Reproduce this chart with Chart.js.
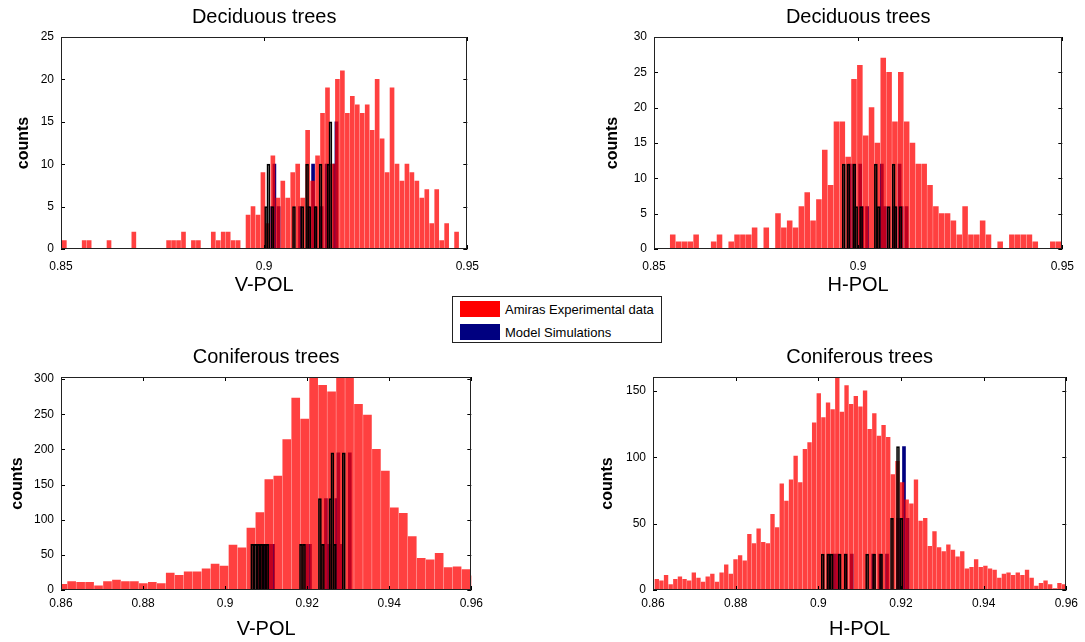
<!DOCTYPE html>
<html>
<head>
<meta charset="utf-8">
<script src="https://cdn.jsdelivr.net/npm/chart.js@4.4.1/dist/chart.umd.min.js"></script>
<style>
  body { margin: 0; background: #fff; width: 1085px; height: 642px; position: relative; overflow: hidden; font-family: "Liberation Sans", Arial, sans-serif; }
  canvas { position: absolute; }
  #legend { position: absolute; left: 452px; top: 296px; width: 208px; height: 45px; border: 1px solid #222; background: #fff; font-size: 13px; color: #000; }
  .item { position: absolute; left: 7px; height: 17px; line-height: 17px; white-space: nowrap; }
  .sw { display: inline-block; width: 40px; height: 16px; vertical-align: top; margin-right: 5px; }
</style>
</head>
<body>
<canvas id="decV" width="488" height="309" style="left:1px;top:0px"></canvas>
<canvas id="decH" width="490" height="309" style="left:594px;top:0px"></canvas>
<canvas id="conV" width="488" height="305" style="left:1px;top:337px"></canvas>
<canvas id="conH" width="491" height="305" style="left:593px;top:337px"></canvas>
<div id="legend">
  <div class="item" style="top:4px"><span class="sw" style="background:#ff0000"></span>Amiras Experimental data</div>
  <div class="item" style="top:27px"><span class="sw" style="background:#000080"></span>Model Simulations</div>
</div>
<script>
const FONT = '"Liberation Sans", Arial, sans-serif';

// Deciduous trees, V-POL (80 bins)
const decVBinStart = 0.85082, decVBinWidth = 0.001222;
const decVCounts = [1,0,0,0,1,1,0,0,0,1, 0,0,0,0,2,0,0,0,0,0, 0,1,1,1,2,0,1,1,0,0, 2,1,2,2,1,1,0,4,5,4,
  9,3,11,6,8,6,9,10,6,14, 8,11,16,19,10,20,21,16,18,17, 16,17,14,20,13,9,19,10,8,10, 9,8,6,7,3,7,1,3,0,2];
const decVModelX = [0.90122, 0.90178, 0.90282, 0.90808, 0.91009, 0.9113, 0.91189, 0.91341, 0.91462, 0.91656, 0.91705];
const decVModelY = [5, 10, 5, 5, 5, 10, 5, 5, 10, 10, 15];

// Deciduous trees, H-POL (67 bins)
const decHBinStart = 0.85459, decHBinWidth = 0.001432;
const decHCounts = [2,1,1,1,2,0,0,1,2,0, 1,2,2,2,3,0,3,0,5,3, 4,3,6,8,4,7,14,9,18,18, 13,24,26,16,20,15,27,25,18,25,
  18,15,12,12,9,6,5,5,4,2, 6,2,2,4,2,0,1,0,2,2, 2,2,1,0,0,1,1];
const decHModelX = [0.89722, 0.89831, 0.89976, 0.90024, 0.90145, 0.90507, 0.9058, 0.90821, 0.90942, 0.9099, 0.91111];
const decHModelY = [12, 12, 12, 6, 6, 12, 6, 6, 12, 6, 6];

// Coniferous trees, V-POL (47 bins)
const conVBinStart = 0.86041, conVBinWidth = 0.0021845;
const conVCounts = [8,12,11,11,6,12,14,12,12,9, 11,9,24,21,26,26,30,37,34,64, 60,88,110,157,162,214,273,243,310,291,
  282,318,306,264,249,200,169,117,109,76, 45,43,52,32,33,29,20];
const conVModelX = [0.90733, 0.90806, 0.90879, 0.90951, 0.91024, 0.91097, 0.91922, 0.91995, 0.92383, 0.92456, 0.92638, 0.92687, 0.92748, 0.92966];
const conVModelY = [65, 65, 65, 65, 65, 65, 65, 65, 130, 65, 130, 195, 65, 195];

// Coniferous trees, H-POL (89 bins)
const conHBinStart = 0.86092, conHBinWidth = 0.0011197;
const conHCounts = [8,7,11,4,8,10,8,7,13,9, 6,10,12,6,13,19,12,23,26,22, 42,35,46,36,35,57,47,80,67,83,
  101,81,106,111,126,148,130,141,136,165, 134,154,140,146,138,150,121,133,116,124, 115,87,97,81,68,65,83,52,54,33,
  44,32,29,34,30,25,29,16,17,23, 17,18,16,15,9,12,13,11,13,11, 15,9,3,5,7,4,1,5,4];
const conHModelX = [0.90181, 0.90313, 0.90398, 0.9059, 0.90735, 0.91253, 0.91422, 0.9159, 0.91855, 0.92, 0.92084];
const conHModelY = [27, 27, 27, 27, 27, 27, 27, 27, 54, 108, 54];

// box round the plot + inward ticks on all four sides
const frameTicks = {
  id: 'frameTicks',
  afterDatasetsDraw(chart) {
    const { ctx, chartArea: a, scales } = chart;
    ctx.save();
    ctx.strokeStyle = '#000';
    ctx.lineWidth = 1;
    ctx.beginPath();
    scales.x.ticks.forEach(t => {
      const px = Math.round(scales.x.getPixelForValue(t.value)) + 0.5;
      ctx.moveTo(px, a.bottom); ctx.lineTo(px, a.bottom - 4);
      ctx.moveTo(px, a.top); ctx.lineTo(px, a.top + 4);
    });
    scales.y.ticks.forEach(t => {
      const py = Math.round(scales.y.getPixelForValue(t.value)) + 0.5;
      ctx.moveTo(a.left, py); ctx.lineTo(a.left + 4, py);
      ctx.moveTo(a.right, py); ctx.lineTo(a.right - 4, py);
    });
    ctx.stroke();
    ctx.strokeStyle = '#222';
    ctx.strokeRect(Math.round(a.left) + 0.5, Math.round(a.top) + 0.5, Math.round(a.width) - 1, Math.round(a.height) - 1);
    ctx.restore();
  }
};

function histChart(id, o) {
  const modelPoints = o.modelX.map((x, i) => ({ x: x, y: o.modelY[i] }));
  return new Chart(document.getElementById(id), {
    type: 'bar',
    data: {
      datasets: [
        {
          // black edges of the model bars, on top of everything
          label: 'Model Simulations',
          data: modelPoints,
          xAxisID: 'x3',
          backgroundColor: 'rgba(0,0,0,0)',
          borderColor: '#000',
          borderWidth: 1,
          barThickness: 3,
          order: 0,
          clip: 0
        },
        {
          label: 'Amiras Experimental data',
          data: o.counts.map((c, i) => ({ x: o.start + i * o.width, y: c })),
          xAxisID: 'x',
          backgroundColor: 'rgba(255,0,0,0.75)',
          borderWidth: 0,
          barThickness: o.barPx,
          order: 1,
          clip: 0
        },
        {
          // navy faces of the model bars, seen through the red
          label: 'Model Simulations',
          data: modelPoints,
          xAxisID: 'x2',
          backgroundColor: '#000080',
          borderWidth: 0,
          barThickness: 3,
          order: 2,
          clip: 0
        }
      ]
    },
    options: {
      responsive: false,
      animation: false,
      devicePixelRatio: 1,
      layout: { padding: { left: 0, right: 16, top: 0, bottom: 0 } },
      plugins: {
        legend: { display: false },
        tooltip: { enabled: false },
        title: {
          display: true,
          fullSize: false,
          text: o.title,
          color: '#000',
          font: { family: FONT, size: 20, weight: 'normal' },
          padding: { top: o.titleTop, bottom: o.titleBottom }
        }
      },
      scales: {
        x: {
          type: 'linear',
          offset: false,
          min: o.xMin,
          max: o.xMax,
          grid: { display: false, drawTicks: false },
          border: { display: false },
          ticks: {
            stepSize: o.xStep,
            padding: o.xTickPad,
            color: '#000',
            maxRotation: 0,
            autoSkip: false,
            font: { family: FONT, size: 12 },
            callback: v => String(+v.toFixed(2))
          },
          title: {
            display: true,
            text: o.xTitle,
            color: '#000',
            font: { family: FONT, size: 20 },
            padding: { top: 0, bottom: o.xTitleBottom }
          },
          afterFit: s => { s.height = o.xh; }
        },
        x2: { type: 'linear', display: false, offset: false, min: o.xMin, max: o.xMax },
        x3: { type: 'linear', display: false, offset: false, min: o.xMin, max: o.xMax },
        y: {
          min: 0,
          max: o.yMax,
          grid: { display: false, drawTicks: false },
          border: { display: false },
          ticks: {
            stepSize: o.yStep,
            includeBounds: false,
            padding: 7,
            color: '#000',
            font: { family: FONT, size: 12 }
          },
          title: {
            display: true,
            text: 'counts',
            color: '#000',
            font: { family: FONT, size: 16, weight: 'bold' },
            padding: { top: o.yTitlePad, bottom: 0 }
          },
          afterFit: s => { s.width = 60; }
        }
      }
    },
    plugins: [frameTicks]
  });
}

const chartDecV = histChart('decV', {
  title: 'Deciduous trees', xTitle: 'V-POL',
  counts: decVCounts, start: decVBinStart, width: decVBinWidth, modelX: decVModelX, modelY: decVModelY,
  xMin: 0.85, xMax: 0.95, xStep: 0.05, yMax: 25, yStep: 5, barPx: 4,
  titleTop: 5, titleBottom: 8, xh: 60, xTickPad: 10, xTitleBottom: 11.5, yTitlePad: 13
});

const chartDecH = histChart('decH', {
  title: 'Deciduous trees', xTitle: 'H-POL',
  counts: decHCounts, start: decHBinStart, width: decHBinWidth, modelX: decHModelX, modelY: decHModelY,
  xMin: 0.85, xMax: 0.95, xStep: 0.05, yMax: 30, yStep: 5, barPx: 4.9,
  titleTop: 5, titleBottom: 8, xh: 60, xTickPad: 10, xTitleBottom: 11.5, yTitlePad: 9
});

const chartConV = histChart('conV', {
  title: 'Coniferous trees', xTitle: 'V-POL',
  counts: conVCounts, start: conVBinStart, width: conVBinWidth, modelX: conVModelX, modelY: conVModelY,
  xMin: 0.86, xMax: 0.96, xStep: 0.02, yMax: 303, yStep: 50, barPx: 8,
  titleTop: 8, titleBottom: 8, xh: 52, xTickPad: 6, xTitleBottom: 0.5, yTitlePad: 7
});

const chartConH = histChart('conH', {
  title: 'Coniferous trees', xTitle: 'H-POL',
  counts: conHCounts, start: conHBinStart, width: conHBinWidth, modelX: conHModelX, modelY: conHModelY,
  xMin: 0.86, xMax: 0.96, xStep: 0.02, yMax: 160.5, yStep: 50, barPx: 3.7,
  titleTop: 8, titleBottom: 8, xh: 52, xTickPad: 6, xTitleBottom: 0.5, yTitlePad: 5
});
</script>
</body>
</html>
